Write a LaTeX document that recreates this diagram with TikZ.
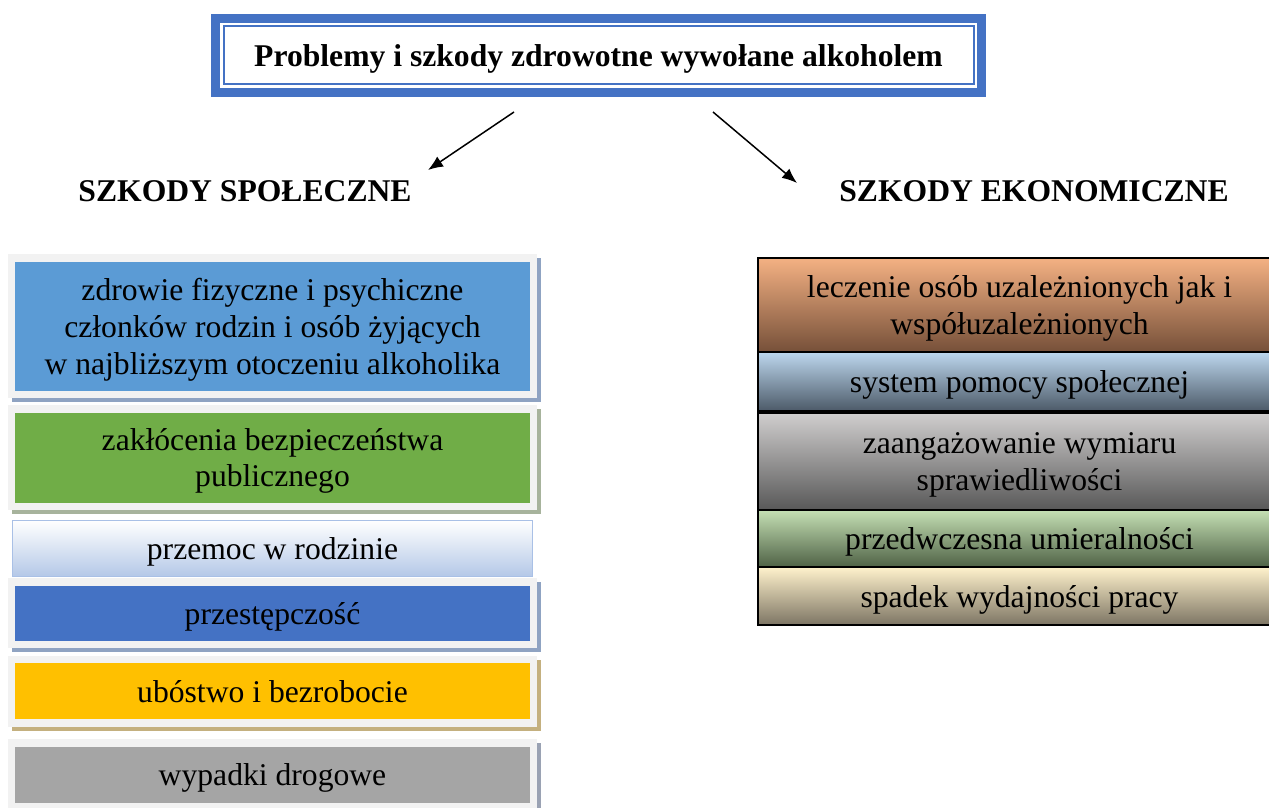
\documentclass[tikz,border=0pt]{standalone}
\usepackage{fontspec}
\setmainfont{Liberation Serif}
\usetikzlibrary{arrows.meta,backgrounds}

\definecolor{titleblue}{HTML}{4472C4}
\definecolor{framegray}{HTML}{F2F2F2}
\definecolor{zdrowieblue}{HTML}{5B9BD5}
\definecolor{zaklgreen}{HTML}{70AD47}
\definecolor{przemocblue}{HTML}{B4C7E7}
\definecolor{przemocline}{HTML}{A9C0E6}
\definecolor{przestblue}{HTML}{4472C4}
\definecolor{ubostyellow}{HTML}{FFC000}
\definecolor{wypadgray}{HTML}{A5A5A5}
\definecolor{shblue}{HTML}{8FA3C2}
\definecolor{shgreen}{HTML}{A7B39C}
\definecolor{shtan}{HTML}{C4B07F}
\definecolor{shgray}{HTML}{9AA2B3}
\definecolor{leczA}{HTML}{F4B183}
\definecolor{leczB}{HTML}{765039}
\definecolor{pomocA}{HTML}{BDD7EE}
\definecolor{pomocB}{HTML}{4C5A68}
\definecolor{wymiarA}{HTML}{D0CECE}
\definecolor{wymiarB}{HTML}{585858}
\definecolor{umierA}{HTML}{C5E0B4}
\definecolor{umierB}{HTML}{4F6246}
\definecolor{spadekA}{HTML}{FFF2CC}
\definecolor{spadekB}{HTML}{7D7564}

\begin{document}
\begin{tikzpicture}[
    >={Latex[length=0.3cm,width=0.24cm]},
    every node/.style={font=\fontsize{18}{21}\selectfont, text depth=0pt},
    lbox/.style={rectangle, draw=framegray, line width=0.15cm, fill=#1,
        minimum width=10.43cm, align=center, inner sep=0pt},
    rbox/.style 2 args={rectangle, draw=black, line width=0.04cm,
        top color=#1, bottom color=#2, minimum width=10.46cm, align=center, inner sep=0pt},
    head/.style={font=\fontsize{18}{21}\selectfont\bfseries}
]
\useasboundingbox (0,0) rectangle (25.38,-16.14);

% Titel
\node[draw=titleblue, line width=0.18cm, minimum width=15.32cm, minimum height=1.48cm,
    head] (title) at (11.97,-1.11) {Problemy i szkody zdrowotne wywołane alkoholem};
\draw[titleblue, line width=0.04cm] ([shift={(0.25,-0.24)}]title.north west)
    rectangle ([shift={(-0.25,0.26)}]title.south east);

% Ueberschriften
\node[head] (spol) at (4.9,-3.82) {SZKODY SPOŁECZNE};
\node[head] (ekon) at (20.68,-3.82) {SZKODY EKONOMICZNE};

\coordinate (ls) at (10.28,-2.24);
\coordinate (le) at (8.56,-3.40);
\coordinate (rs) at (14.26,-2.24);
\coordinate (re) at (15.94,-3.66);
\draw[->, line width=0.03cm] (ls) -- (le);
\draw[->, line width=0.03cm] (rs) -- (re);

% Szkody spoleczne
\node[lbox=zdrowieblue, minimum height=2.73cm] (zdrowie) at (5.45,-6.52)
    {zdrowie fizyczne i psychiczne\\członków rodzin i osób żyjących\\w najbliższym otoczeniu alkoholika};
\node[lbox=zaklgreen, minimum height=1.95cm] (zaklocenia) at (5.45,-9.15)
    {zakłócenia bezpieczeństwa\\publicznego};
\node[lbox=przestblue, minimum height=1.25cm] (przestepczosc) at (5.45,-12.26) {przestępczość};
\node[rectangle, draw=przemocline, line width=0.03cm, top color=white, bottom color=przemocblue,
    minimum width=10.4cm, minimum height=1.12cm, inner sep=0pt] (przemoc) at (5.45,-10.97) {przemoc w rodzinie};
\node[lbox=ubostyellow, minimum height=1.27cm] (ubostwo) at (5.45,-13.82) {ubóstwo i bezrobocie};
\node[lbox=wypadgray, minimum height=1.27cm] (wypadki) at (5.45,-15.49) {wypadki drogowe};

\begin{scope}[on background layer]
\foreach \n/\c in {zdrowie/shblue, zaklocenia/shgreen, przestepczosc/shblue,
    ubostwo/shtan, wypadki/shgray}
    \fill[\c] ([shift={(0.08,-0.08)}]\n.south west) rectangle ([shift={(0.08,-0.08)}]\n.north east);
\end{scope}

% Szkody ekonomiczne
\node[rbox={leczA}{leczB}, minimum height=1.88cm] (leczenie) at (20.39,-6.10)
    {leczenie osób uzależnionych jak i\\współuzależnionych};
\node[rbox={pomocA}{pomocB}, minimum height=1.18cm] (pomoc) at (20.39,-7.63)
    {system pomocy społecznej};
\node[rbox={wymiarA}{wymiarB}, minimum height=1.94cm] (wymiar) at (20.39,-9.23)
    {zaangażowanie wymiaru\\sprawiedliwości};
\node[rbox={umierA}{umierB}, minimum height=1.14cm] (umieral) at (20.39,-10.77)
    {przedwczesna umieralności};
\node[rbox={spadekA}{spadekB}, minimum height=1.16cm] (spadek) at (20.39,-11.92)
    {spadek wydajności pracy};
\end{tikzpicture}
\end{document}
